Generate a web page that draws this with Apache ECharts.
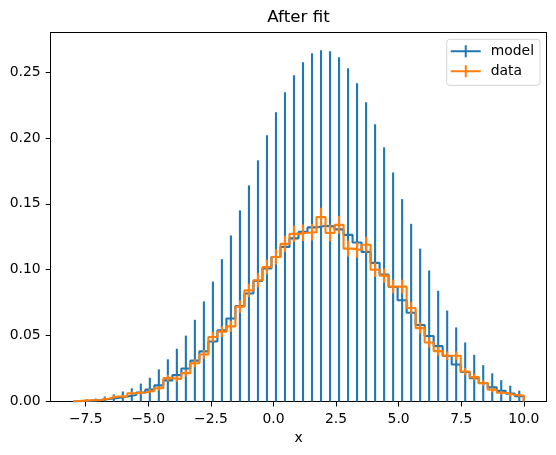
<!DOCTYPE html>
<html><head><meta charset="utf-8">
<script src="https://cdn.jsdelivr.net/npm/echarts@6/dist/echarts.min.js"></script>
<style>html,body{margin:0;padding:0;background:#fff}#c{width:556px;height:455px}</style>
</head><body><div id="c"></div>
<script>
// Histogram binning
const binStart = -8, binWidth = 0.36, binCount = 50;
// Model bin contents (step line) and their error half-widths (bars span 0 .. 2*value)
const modelValues = [0.0004,0.0007,0.0011,0.0019,0.0027,0.0038,0.0050,0.0068,0.0090,0.0122,
  0.0160,0.0200,0.0250,0.0310,0.0380,0.0455,0.0540,0.0630,0.0725,0.0820,
  0.0915,0.1010,0.1097,0.1173,0.1238,0.1287,0.1321,0.1333,0.1329,0.1306,
  0.1264,0.1207,0.1135,0.1052,0.0964,0.0869,0.0768,0.0674,0.0580,0.0497,
  0.0420,0.0345,0.0281,0.0224,0.0177,0.0138,0.0107,0.0081,0.0060,0.0041];
const modelErrors = [0.0004,0.0007,0.0011,0.0019,0.0027,0.0038,0.0050,0.0068,0.0090,0.0122,
  0.0160,0.0200,0.0250,0.0310,0.0380,0.0455,0.0540,0.0630,0.0725,0.0820,
  0.0915,0.1010,0.1097,0.1173,0.1238,0.1287,0.1321,0.1333,0.1329,0.1306,
  0.1264,0.1207,0.1135,0.1052,0.0964,0.0869,0.0768,0.0674,0.0580,0.0497,
  0.0420,0.0345,0.0281,0.0224,0.0177,0.0138,0.0107,0.0081,0.0060,0.0041];
// Data bin contents and error half-widths
const dataValues = [0.0005,0.0010,0.0010,0.0023,0.0038,0.0038,0.0063,0.0068,0.0080,0.0100,
  0.0177,0.0172,0.0215,0.0290,0.0357,0.0490,0.0530,0.0570,0.0720,0.0843,
  0.0920,0.1020,0.1097,0.1196,0.1272,0.1280,0.1285,0.1400,0.1279,0.1340,
  0.1160,0.1150,0.1190,0.1000,0.0955,0.0872,0.0872,0.0710,0.0557,0.0448,
  0.0382,0.0347,0.0347,0.0228,0.0185,0.0140,0.0089,0.0066,0.0051,0.0046];
const dataErrors = [0.0004,0.0006,0.0006,0.0008,0.0011,0.0011,0.0014,0.0014,0.0016,0.0018,
  0.0023,0.0023,0.0026,0.0030,0.0033,0.0039,0.0040,0.0042,0.0047,0.0051,
  0.0053,0.0056,0.0058,0.0061,0.0062,0.0063,0.0063,0.0070,0.0063,0.0068,
  0.0060,0.0059,0.0060,0.0055,0.0054,0.0052,0.0052,0.0047,0.0041,0.0037,
  0.0034,0.0033,0.0033,0.0026,0.0024,0.0021,0.0017,0.0014,0.0012,0.0012];
const xTicks = [-7.5,-5,-2.5,0,2.5,5,7.5,10];
const yTicks = [0,0.05,0.1,0.15,0.2,0.25];

const BLUE = '#1f77b4', ORANGE = '#ff7f0e';
const edges = [];
for (let i = 0; i <= binCount; i++) edges.push(+(binStart + i * binWidth).toFixed(6));
const centers = edges.slice(0, -1).map((e, i) => (e + edges[i + 1]) / 2);

function stepData(vals) {
  const d = [[edges[0], 0]];
  vals.forEach((v, i) => d.push([edges[i], v]));
  d.push([edges[binCount], vals[binCount - 1]]);
  d.push([edges[binCount], 0]);
  return d;
}
function errData(vals, errs) {
  return vals.map((v, i) => [centers[i], v - errs[i], v + errs[i]]);
}
function errRender(color) {
  return function (params, api) {
    const p1 = api.coord([api.value(0), api.value(1)]);
    const p2 = api.coord([api.value(0), api.value(2)]);
    return { type: 'line', shape: { x1: p1[0], y1: p1[1], x2: p2[0], y2: p2[1] },
      style: { stroke: color, lineWidth: 2.1 } };
  };
}
const minus = s => s.replace('-', '\u2212');
const FONT = 'DejaVu Sans';
const legendIcon = 'path://M0,5 L30,5 L30,7 L0,7 Z M14,0 L16,0 L16,12 L14,12 Z';

const chart = echarts.init(document.getElementById('c'), null, { renderer: 'canvas' });
chart.setOption({
  animation: false,
  backgroundColor: '#ffffff',
  textStyle: { fontFamily: FONT },
  grid: { left: 50.7, right: 9.7, top: 32.5, bottom: 53.5, containLabel: false },
  graphic: [{ type: 'text', x: 298.5, y: 17.5,
    style: { text: 'After fit', fontFamily: FONT, fontSize: 16.7, fill: '#000',
      textAlign: 'center', textVerticalAlign: 'middle' } }],
  legend: {
    orient: 'vertical', right: 16, top: 39.3,
    padding: [4, 6, 6, 4], itemGap: 4, itemWidth: 30, itemHeight: 12,
    backgroundColor: '#fff', borderColor: '#d5d5d5', borderWidth: 1, borderRadius: 3,
    textStyle: { fontFamily: FONT, fontSize: 13.9, color: '#000', lineHeight: 16, padding: [0, 0, 0, 5] },
    itemStyle: { borderWidth: 0 },
    data: [{ name: 'model', icon: legendIcon }, { name: 'data', icon: legendIcon }]
  },
  xAxis: [{
    type: 'value', min: -8.9, max: 10.9, position: 'bottom',
    name: 'x', nameLocation: 'middle', nameGap: 30,
    nameTextStyle: { fontFamily: FONT, fontSize: 13.9, color: '#000' },
    axisLine: { show: true, onZero: false, lineStyle: { color: '#000', width: 1 } },
    axisTick: { show: true, length: 5, customValues: xTicks, lineStyle: { color: '#000', width: 1 } },
    axisLabel: { customValues: xTicks, margin: 11, fontFamily: FONT, fontSize: 13.9, color: '#000',
      formatter: v => minus(v.toFixed(1)) },
    splitLine: { show: false }
  }, {
    type: 'value', min: 0, max: 1, position: 'top',
    axisLine: { show: true, onZero: false, lineStyle: { color: '#000', width: 1 } },
    axisTick: { show: false }, axisLabel: { show: false }, splitLine: { show: false }
  }],
  yAxis: [{
    type: 'value', min: 0, max: 0.28, position: 'left',
    axisLine: { show: true, onZero: false, lineStyle: { color: '#000', width: 1 } },
    axisTick: { show: true, length: 5, customValues: yTicks, lineStyle: { color: '#000', width: 1 } },
    axisLabel: { customValues: yTicks, margin: 10, fontFamily: FONT, fontSize: 13.9, color: '#000',
      formatter: v => v.toFixed(2) },
    splitLine: { show: false }
  }, {
    type: 'value', min: 0, max: 1, position: 'right',
    axisLine: { show: true, onZero: false, lineStyle: { color: '#000', width: 1 } },
    axisTick: { show: false }, axisLabel: { show: false }, splitLine: { show: false }
  }],
  series: [
    { name: 'model', type: 'line', step: 'end', data: stepData(modelValues), showSymbol: false, symbol: 'none',
      color: BLUE, lineStyle: { color: BLUE, width: 2.1 }, z: 2 },
    { name: 'model', type: 'custom', data: errData(modelValues, modelErrors), color: BLUE,
      encode: { x: 0, y: [1, 2] }, renderItem: errRender(BLUE), z: 2 },
    { name: 'data', type: 'line', step: 'end', data: stepData(dataValues), showSymbol: false, symbol: 'none',
      color: ORANGE, lineStyle: { color: ORANGE, width: 2.1 }, z: 3 },
    { name: 'data', type: 'custom', data: errData(dataValues, dataErrors), color: ORANGE,
      encode: { x: 0, y: [1, 2] }, renderItem: errRender(ORANGE), z: 3 }
  ]
});
</script>
</body></html>
